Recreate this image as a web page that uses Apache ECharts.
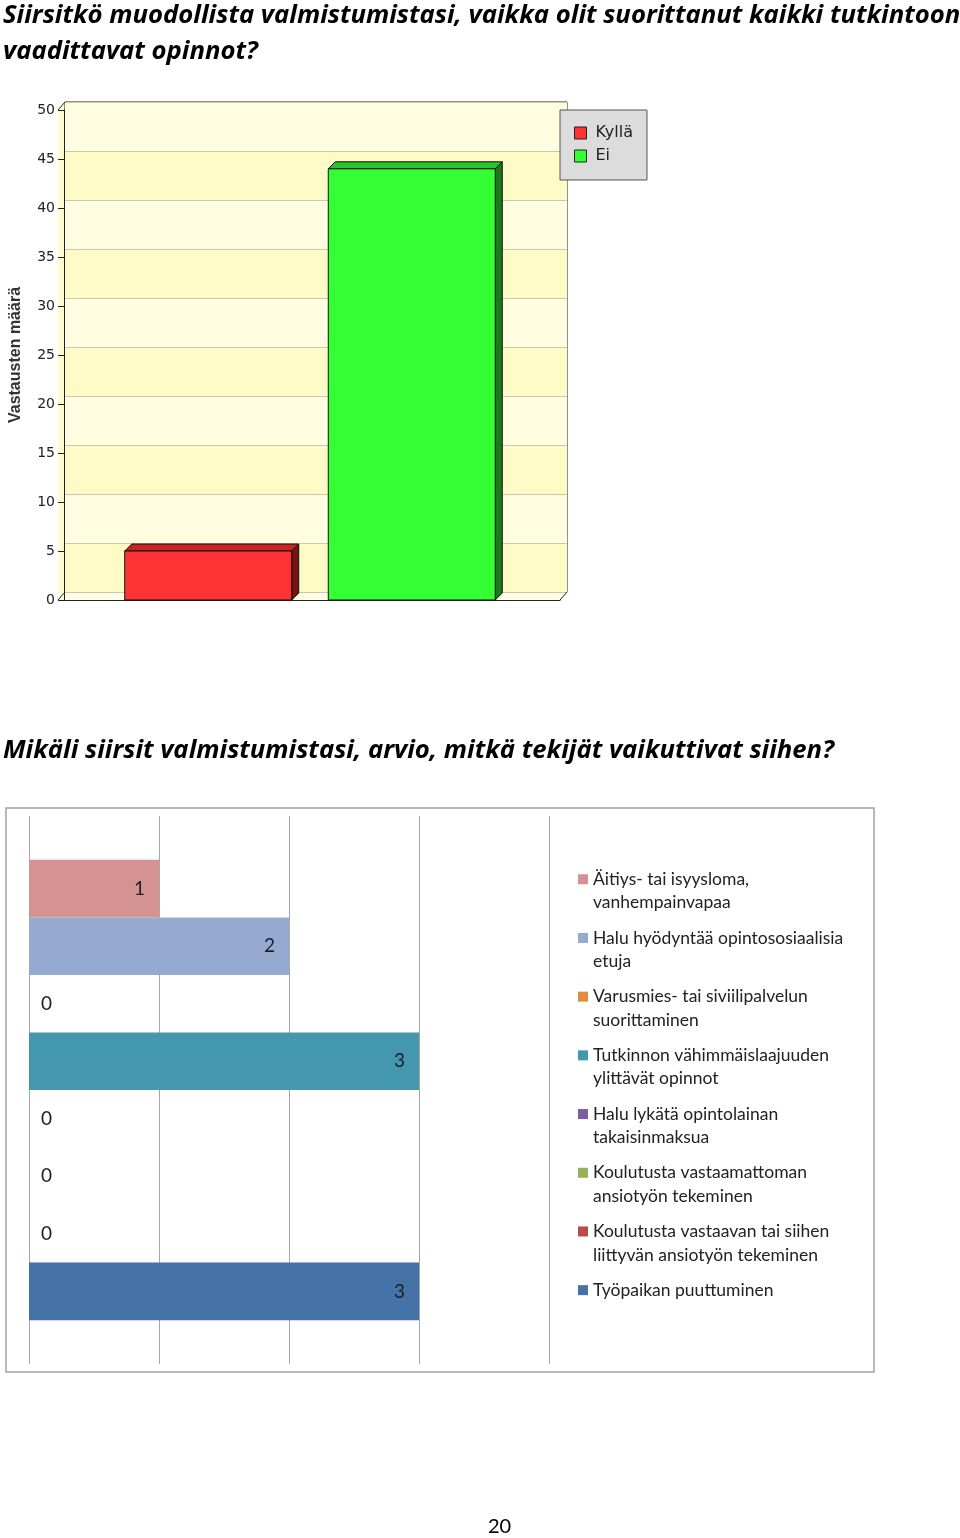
<!DOCTYPE html>
<html>
<head>
<meta charset="utf-8">
<script src="https://cdn.jsdelivr.net/npm/echarts@6/dist/echarts.min.js"></script>
<style>
html,body{margin:0;padding:0;background:#fff;}
#main{width:960px;height:1538px;}
</style>
</head>
<body>
<div id="main"></div>
<script>
// ---- data ----
const titleLine1 = 'Siirsitkö muodollista valmistumistasi, vaikka olit suorittanut kaikki tutkintoon';
const titleLine2 = 'vaadittavat opinnot?';
const topSeriesNames = ['Kyllä', 'Ei'];
const topValues = [5, 44];
const topAxisName = 'Vastausten määrä';

const title2 = 'Mikäli siirsit valmistumistasi, arvio, mitkä tekijät vaikuttivat siihen?';
const bottomNames = [
  'Äitiys- tai isyysloma,\nvanhempainvapaa',
  'Halu hyödyntää opintososiaalisia\netuja',
  'Varusmies- tai siviilipalvelun\nsuorittaminen',
  'Tutkinnon vähimmäislaajuuden\nylittävät opinnot',
  'Halu lykätä opintolainan\ntakaisinmaksua',
  'Koulutusta vastaamattoman\nansiotyön tekeminen',
  'Koulutusta vastaavan tai siihen\nliittyvän ansiotyön tekeminen',
  'Työpaikan puuttuminen'
];
const bottomValues = [1, 2, 0, 3, 0, 0, 0, 3];
const pageNumber = '20';

// ---- styles ----
const topColors = [
  {front: '#ff3333', top: '#c82424', side: '#761414'},
  {front: '#33ff33', top: '#2cc42c', side: '#1c7a1c'}
];
const bottomColors = ['#d49392', '#95a9d1', '#e58b3d', '#4398b0', '#7a5fa0', '#95b356', '#bc4a4a', '#4572a7'];
const DEPTH = 7;
const BAR_FRAC = 169 / 502;
const GAP_FRAC = 37 / 502;
const TITLE_FONT = {fontFamily: 'Open Sans', fontStyle: 'italic', fontWeight: 'bold', fontSize: 25.7, color: '#000'};

const chart = echarts.init(document.getElementById('main'), null, {renderer: 'canvas'});

function render3DBar(params, api) {
  const idx = topSeriesNames.indexOf(params.seriesName);
  const c = topColors[idx];
  const v = api.value(1);
  const base = api.coord([api.value(0), 0]);
  const top = api.coord([api.value(0), v]);
  const band = api.size([1, 0])[0];
  const barW = band * BAR_FRAC;
  const gap = band * GAP_FRAC;
  const groupW = 2 * barW + gap;
  const x0 = base[0] - groupW / 2 + idx * (barW + gap) - 2;
  const yT = top[1], yB = base[1], d = DEPTH;
  const stroke = {stroke: '#111', lineWidth: 1};
  return {
    type: 'group',
    children: [
      {type: 'polygon', shape: {points: [[x0 + barW, yT], [x0 + barW + d, yT - d], [x0 + barW + d, yB - d], [x0 + barW, yB]]},
        style: Object.assign({fill: c.side}, stroke)},
      {type: 'polygon', shape: {points: [[x0, yT], [x0 + d, yT - d], [x0 + barW + d, yT - d], [x0 + barW, yT]]},
        style: Object.assign({fill: c.top}, stroke)},
      {type: 'rect', shape: {x: x0, y: yT, width: barW, height: yB - yT},
        style: Object.assign({fill: c.front}, stroke)}
    ]
  };
}

const twoLine = {};
bottomNames.forEach(n => { twoLine[n] = n.indexOf('\n') >= 0; });

const option = {
  animation: false,
  backgroundColor: '#fff',
  title: [
    {text: titleLine1 + '\n' + titleLine2, left: 3, top: -2, padding: 0,
      textStyle: Object.assign({lineHeight: 35.5}, TITLE_FONT)},
    {text: title2, left: 3, top: 736, padding: 0,
      textStyle: Object.assign({lineHeight: 30}, TITLE_FONT)},
    {text: pageNumber, left: 488, top: 1517, padding: 0,
      textStyle: {fontFamily: 'Lato', fontWeight: 'normal', fontSize: 20, lineHeight: 20, color: '#000'}}
  ],
  legend: [
    {
      data: topSeriesNames,
      orient: 'vertical', left: 560, top: 110,
      backgroundColor: '#dcdcdc', borderColor: '#555', borderWidth: 1,
      padding: [15, 14, 16, 14],
      itemWidth: 12, itemHeight: 12, itemGap: 7, icon: 'rect',
      itemStyle: {borderColor: '#222', borderWidth: 1},
      textStyle: {fontFamily: 'DejaVu Sans', fontSize: 16, lineHeight: 16, color: '#222', padding: [0, 0, 0, 4]},
      selectedMode: false
    },
    {
      data: bottomNames,
      formatter: name => '\n' + name + (twoLine[name] ? '' : '\n'),
      orient: 'vertical', left: 578, top: 844, padding: 0,
      itemWidth: 10, itemHeight: 10, itemGap: -11.8, icon: 'rect',
      textStyle: {fontFamily: 'Lato', fontSize: 17.5, lineHeight: 23.5, color: '#222', backgroundColor: 'rgba(0,0,0,0)'},
      selectedMode: false
    }
  ],
  grid: [
    {left: 65, top: 102, width: 502, height: 490, show: true, borderColor: '#222', borderWidth: 1, backgroundColor: 'transparent'},
    {left: 58, top: 110, width: 502, height: 490},
    {left: 29, top: 816, width: 520, height: 548}
  ],
  xAxis: [
    {gridIndex: 0, type: 'category', data: [''], show: false},
    {gridIndex: 1, type: 'category', data: [''],
      axisLine: {show: true, lineStyle: {color: '#222', width: 1}}, axisTick: {show: false}, axisLabel: {show: false}},
    {gridIndex: 2, type: 'value', min: 0, max: 4, interval: 1,
      axisLine: {show: false}, axisTick: {show: false}, axisLabel: {show: false},
      splitLine: {show: true, lineStyle: {color: '#a6a6a6', width: 1}}}
  ],
  yAxis: [
    {gridIndex: 0, type: 'value', min: 0, max: 50, interval: 5,
      axisLine: {show: false}, axisTick: {show: false}, axisLabel: {show: false},
      splitLine: {show: true, lineStyle: {color: '#c9c7b0', width: 1}},
      splitArea: {show: true, areaStyle: {color: ['#fffbc6', '#fffde0']}}},
    {gridIndex: 1, type: 'value', min: 0, max: 50, interval: 5,
      axisLine: {show: true, lineStyle: {color: '#222', width: 1}},
      axisTick: {show: true, length: 6, lineStyle: {color: '#222'}},
      axisLabel: {fontFamily: 'DejaVu Sans', fontSize: 14, color: '#222', margin: 9},
      splitLine: {show: false},
      name: topAxisName, nameLocation: 'middle', nameGap: 40, nameRotate: 90,
      nameTextStyle: {fontFamily: 'Liberation Sans', fontWeight: 'bold', fontSize: 16, color: '#333'}},
    {gridIndex: 2, type: 'category', data: [''],
      axisLine: {show: false}, axisTick: {show: false}, axisLabel: {show: false}}
  ],
  graphic: [
    {type: 'polygon', z: -1, shape: {points: [[58, 110], [65, 102], [65, 592], [58, 600]]}, style: {fill: '#fffbd2'}},
    {type: 'polygon', z: -1, shape: {points: [[58, 600], [65, 592], [567, 592], [560, 600]]}, style: {fill: '#fffde6'}},
    {type: 'polyline', z: 10, shape: {points: [[58, 110], [65, 102]]}, style: {stroke: '#222', lineWidth: 1, fill: null}},
    {type: 'polyline', z: 10, shape: {points: [[58, 600], [65, 592]]}, style: {stroke: '#222', lineWidth: 1, fill: null}},
    {type: 'polyline', z: 10, shape: {points: [[560, 600], [567, 592]]}, style: {stroke: '#222', lineWidth: 1, fill: null}},
    {type: 'rect', z: 10, shape: {x: 6, y: 808, width: 868, height: 564}, style: {stroke: '#a3a3a3', lineWidth: 1.5, fill: null}}
  ],
  series: topSeriesNames.map((n, i) => ({
    name: n, type: 'custom', xAxisIndex: 1, yAxisIndex: 1,
    itemStyle: {color: topColors[i].front},
    encode: {x: 0, y: 1},
    data: [[0, topValues[i]]],
    renderItem: render3DBar
  })).concat(bottomNames.map((n, i) => ({
    name: n, type: 'bar', xAxisIndex: 2, yAxisIndex: 2,
    barGap: '0%', barCategoryGap: '16%',
    itemStyle: {color: bottomColors[i]},
    data: [{
      value: bottomValues[i],
      label: {
        show: true,
        position: bottomValues[i] === 0 ? 'right' : 'insideRight',
        distance: bottomValues[i] === 0 ? 12 : 14,
        fontFamily: 'Lato', fontSize: 19, color: '#1e1e1e'
      }
    }]
  })))
};
chart.setOption(option);
</script>
</body>
</html>
